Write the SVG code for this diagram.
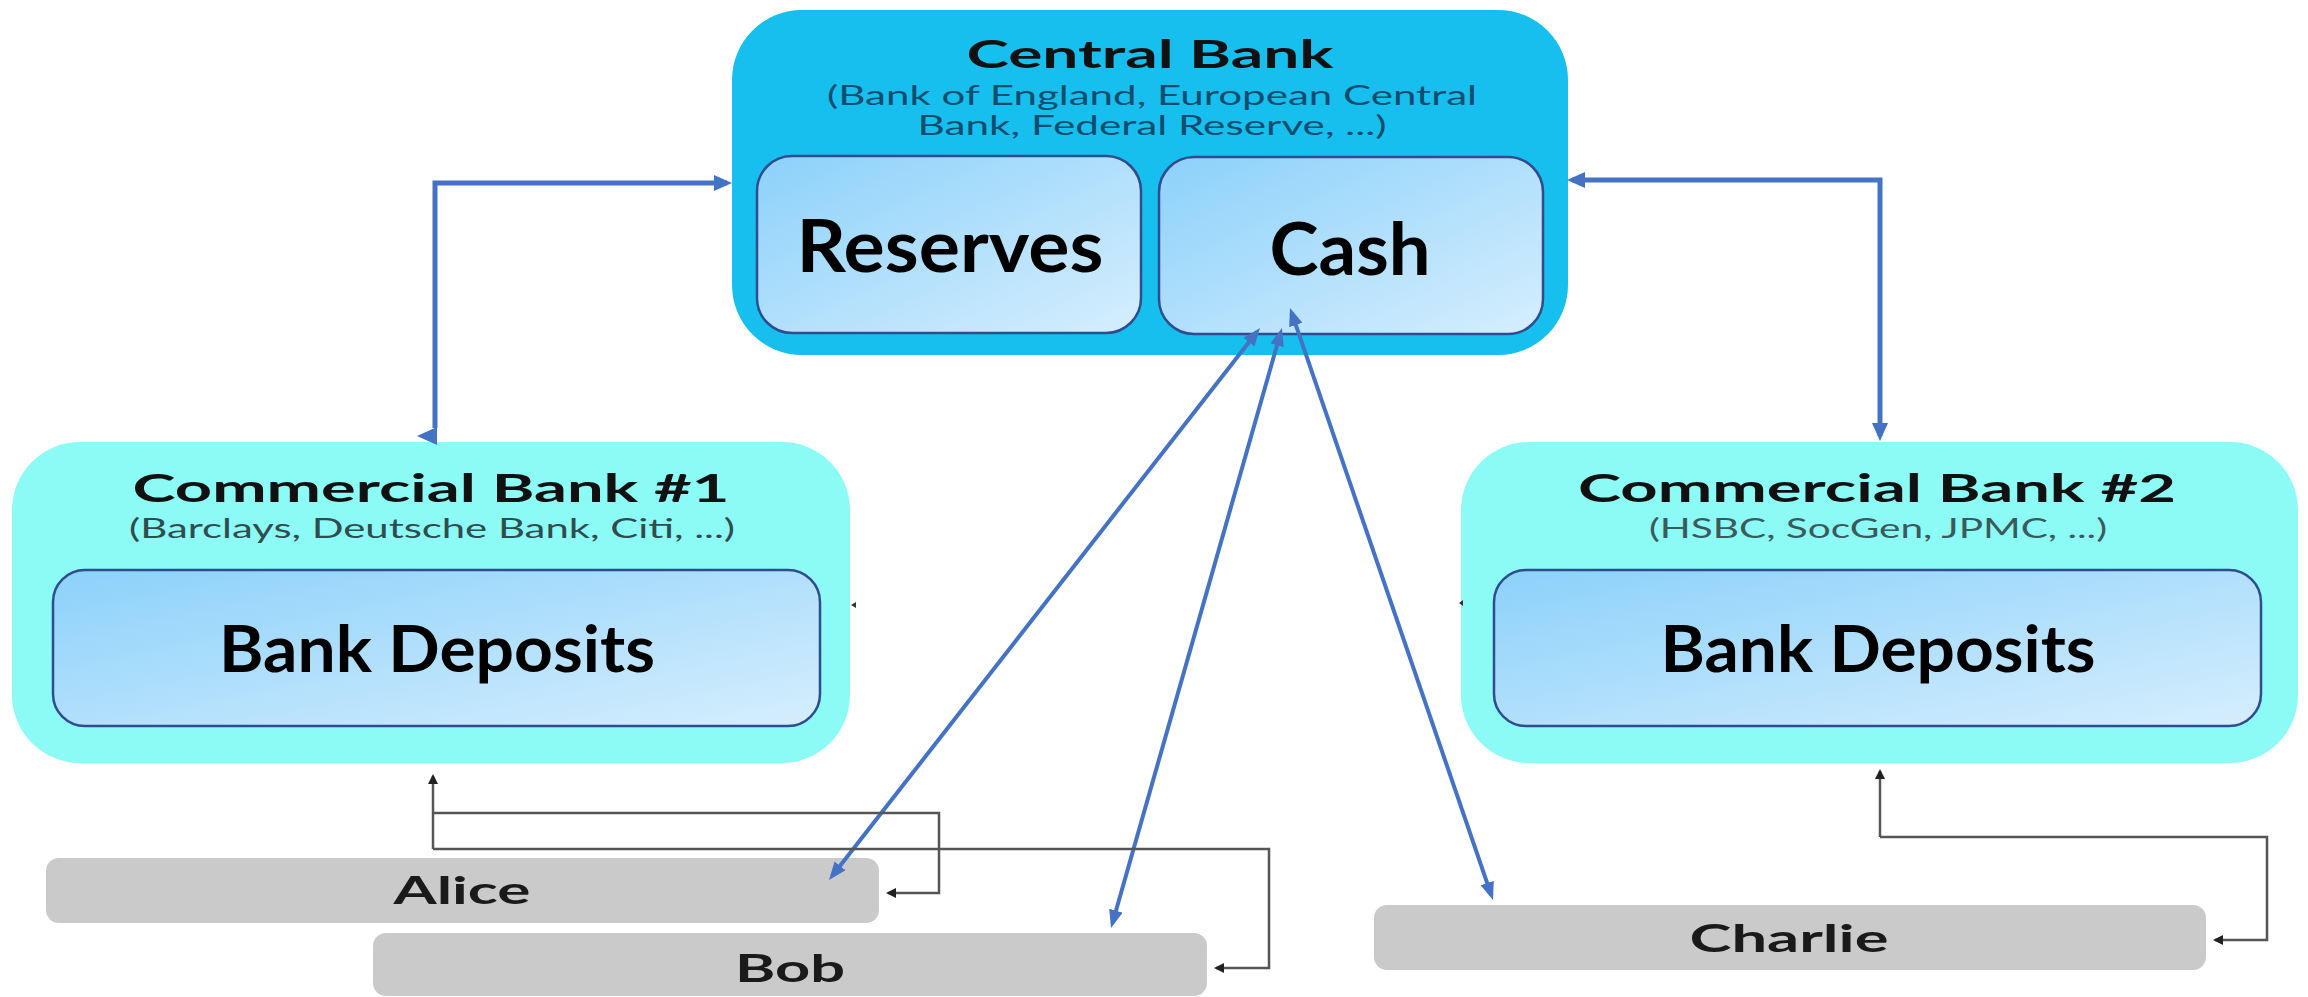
<svg xmlns="http://www.w3.org/2000/svg" width="2308" height="997" viewBox="0 0 2308 997">
<style>
.outerC{fill:#17BFEE}
.outerB{fill:#8CFBF6}
.inner{fill:url(#ig);stroke:#2E4C8E;stroke-width:2.5}
.person{fill:#CACACA}
.t{font-family:Lato,"Open Sans","Liberation Sans",sans-serif;text-anchor:middle}
.title{font-weight:bold;font-size:39px;fill:#111}
.sub{font-size:27px}
.big{font-weight:bold;fill:#000}
.name{font-weight:bold;font-size:38px;fill:#1a1a1a}
.blue{fill:none;stroke:#4472C4;stroke-width:5}
.blueD{fill:none;stroke:#4472C4;stroke-width:4;marker-start:url(#ba);marker-end:url(#ba)}
.blk{fill:none;stroke:#555;stroke-width:2.5;marker-end:url(#ka)}
</style>
<defs>
<linearGradient id="ig" x1="0" y1="0" x2="1" y2="1">
<stop offset="0" stop-color="#8CD1FA"/>
<stop offset="1" stop-color="#D6EEFD"/>
</linearGradient>
<marker id="ba" viewBox="0 0 18 14" markerUnits="userSpaceOnUse" markerWidth="18" markerHeight="14" refX="13" refY="7" orient="auto-start-reverse">
<path d="M0,0 L18,7 L0,14 z" fill="#4472C4"/>
</marker>
<marker id="bb" viewBox="0 0 18 16" markerUnits="userSpaceOnUse" markerWidth="18" markerHeight="16" refX="13" refY="8" orient="auto-start-reverse">
<path d="M0,0 L18,8 L0,16 z" fill="#4472C4"/>
</marker>
<marker id="ka" viewBox="0 0 10 10" markerUnits="userSpaceOnUse" markerWidth="11" markerHeight="10" refX="8" refY="5" orient="auto">
<path d="M0,0 L10,5 L0,10 z" fill="#222"/>
</marker>
</defs>
<rect width="2308" height="997" fill="#fff"/>

<g id="central-bank">
<rect class="outerC" x="732" y="10" width="836" height="345" rx="70"/>
<text class="t title" x="1150" y="68" font-size="35" textLength="367" lengthAdjust="spacingAndGlyphs">Central Bank</text>
<text class="t sub" x="1152" y="105" fill="#0F4D6E" textLength="650" lengthAdjust="spacingAndGlyphs">(Bank of England, European Central</text>
<text class="t sub" x="1152" y="135" fill="#0F4D6E" textLength="469" lengthAdjust="spacingAndGlyphs">Bank, Federal Reserve, ...)</text>
</g>
<g id="reserves">
<rect class="inner" x="757" y="156" width="384" height="177" rx="35"/>
<text class="t big" x="950" y="272" font-size="73" textLength="307" lengthAdjust="spacingAndGlyphs">Reserves</text>
</g>
<g id="cash">
<rect class="inner" x="1159" y="157" width="384" height="177" rx="35"/>
<text class="t big" x="1350" y="275" font-size="73" textLength="161" lengthAdjust="spacingAndGlyphs">Cash</text>
</g>

<g id="commercial-bank-1">
<rect class="outerB" x="12" y="442" width="838" height="321" rx="68"/>
<text class="t title" x="431" y="502" textLength="597" lengthAdjust="spacingAndGlyphs">Commercial Bank #1</text>
<text class="t sub" x="432" y="538" fill="#2F4C4E" textLength="606" lengthAdjust="spacingAndGlyphs">(Barclays, Deutsche Bank, Citi, ...)</text>
</g>
<g id="bank-deposits-1">
<rect class="inner" x="53" y="570" width="767" height="156" rx="32"/>
<text class="t big" x="437" y="672" font-size="65" textLength="436" lengthAdjust="spacingAndGlyphs">Bank Deposits</text>
</g>

<g id="commercial-bank-2">
<rect class="outerB" x="1461" y="442" width="837" height="321" rx="68"/>
<text class="t title" x="1877" y="502" textLength="598" lengthAdjust="spacingAndGlyphs">Commercial Bank #2</text>
<text class="t sub" x="1878" y="538" fill="#3A5A5C" textLength="458" lengthAdjust="spacingAndGlyphs">(HSBC, SocGen, JPMC, ...)</text>
</g>
<g id="bank-deposits-2">
<rect class="inner" x="1494" y="570" width="767" height="156" rx="32"/>
<text class="t big" x="1878" y="672" font-size="65" textLength="435" lengthAdjust="spacingAndGlyphs">Bank Deposits</text>
</g>

<g id="alice">
<rect class="person" x="46" y="858" width="833" height="65" rx="13"/>
<text class="t name" x="462" y="904" textLength="137" lengthAdjust="spacingAndGlyphs">Alice</text>
</g>
<g id="bob">
<rect class="person" x="373" y="933" width="834" height="63" rx="13"/>
<text class="t name" x="790" y="982" textLength="110" lengthAdjust="spacingAndGlyphs">Bob</text>
</g>
<g id="charlie">
<rect class="person" x="1374" y="905" width="832" height="65" rx="13"/>
<text class="t name" x="1789" y="952" textLength="199" lengthAdjust="spacingAndGlyphs">Charlie</text>
</g>

<g id="connectors">
<path class="blue" d="M435,428 V183 H727" marker-end="url(#bb)"/>
<polygon points="417,436 437,427 437,445" fill="#4472C4"/>
<path class="blue" d="M1572,180 H1880 V436" marker-start="url(#bb)" marker-end="url(#bb)"/>
<path class="blueD" d="M1256.9,331.9 L832.1,876.1"/>
<path class="blueD" d="M1280.6,332.8 L1112.4,923.2"/>
<path class="blueD" d="M1291.6,312.7 L1491.4,895.3"/>
<path class="blk" d="M433,849 V776"/>
<path class="blk" d="M433,813 H939 V893 H888"/>
<path class="blk" d="M433,849 H1269 V968 H1216"/>
<path class="blk" d="M1880,837 V771"/>
<path class="blk" d="M1880,837 H2267 V940 H2215"/>
<polygon points="851,605 856,602 856,608" fill="#333"/>
<polygon points="1459,603 1463,600 1463,606" fill="#333"/>
</g>
</svg>
